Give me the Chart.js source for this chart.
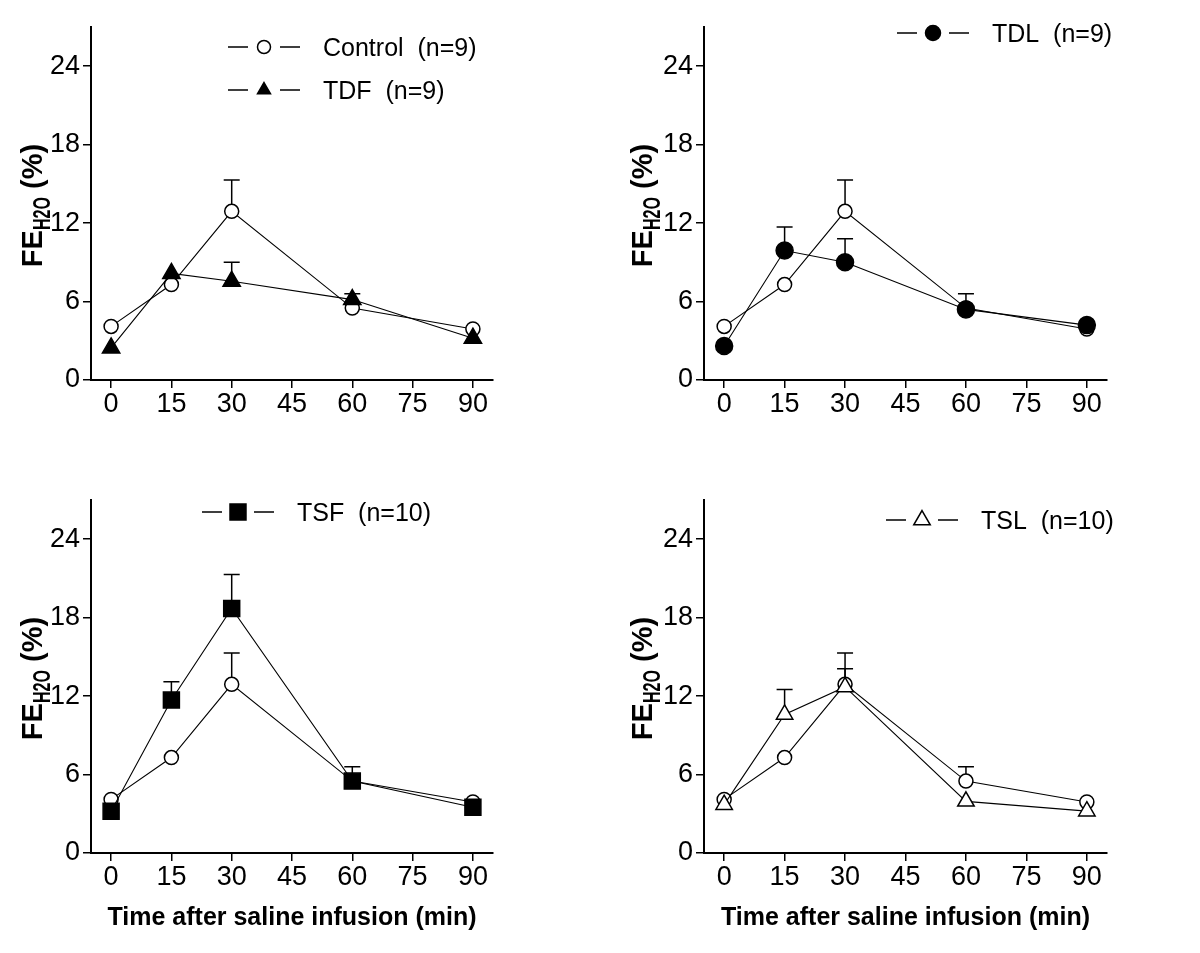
<!DOCTYPE html>
<html>
<head>
<meta charset="utf-8">
<script src="https://cdn.jsdelivr.net/npm/chart.js@4.4.1/dist/chart.umd.min.js"></script>
<style>
  html, body { margin: 0; padding: 0; background: #fff; }
  body { width: 1200px; height: 953px; position: relative; overflow: hidden; }
  .panel { position: absolute; }
  canvas { display: block; }
</style>
</head>
<body>
<div class="panel" style="left:0;top:0;"><canvas id="c1" width="600" height="470"></canvas></div>
<div class="panel" style="left:600px;top:0;"><canvas id="c2" width="600" height="470"></canvas></div>
<div class="panel" style="left:0;top:470px;"><canvas id="c3" width="600" height="483"></canvas></div>
<div class="panel" style="left:600px;top:470px;"><canvas id="c4" width="600" height="483"></canvas></div>
<script>
// ---------- data ----------
const timeMin = [0, 15, 30, 60, 90];
const xTickValues = [0, 15, 30, 45, 60, 75, 90];
const yTickValues = [0, 6, 12, 18, 24];

const controlMean = [4.1, 7.3, 12.9, 5.5, 3.9];
const controlSem  = [0, 0, 2.4, 1.1, 0];

const tdfMean = [2.45, 8.15, 7.55, 6.15, 3.2];
const tdfSem  = [0, 0, 1.45, 0, 0];

const tdlMean = [2.6, 9.9, 9.0, 5.4, 4.2];
const tdlSem  = [0, 1.8, 1.8, 0, 0];

const tsfMean = [3.2, 11.7, 18.7, 5.5, 3.5];
const tsfSem  = [0, 1.4, 2.6, 0, 0];

const tslMean = [3.7, 10.6, 12.7, 3.95, 3.2];
const tslSem  = [0, 1.9, 1.4, 0, 0];

const labelControl = 'Control  (n=9)';
const labelTDF = 'TDF  (n=9)';
const labelTDL = 'TDL  (n=9)';
const labelTSF = 'TSF  (n=10)';
const labelTSL = 'TSL  (n=10)';

const yTitleMain = 'FE';
const yTitleSub = 'H2O';
const yTitleTail = ' (%)';
const xTitleText = 'Time after saline infusion (min)';

// ---------- styles ----------
const FONT = '"Liberation Sans", Arial, Helvetica, sans-serif';
const styles = {
  control: { shape: 'circle',   r: 7,    fill: '#ffffff', lr: 6.5 },
  tdf:     { shape: 'triangle', r: 10,   fill: '#000000', lr: 7.5 },
  tdl:     { shape: 'circle',   r: 8.5,  fill: '#000000', lr: 7.5 },
  tsf:     { shape: 'rect',     r: 11.3, fill: '#000000', lr: 11.3 },
  tsl:     { shape: 'triangle', r: 9.5,  fill: '#ffffff', lr: 9.5 }
};

function makeSeries(label, mean, sem, st) {
  return {
    label: label,
    data: timeMin.map((t, i) => ({ x: t, y: mean[i] })),
    sem: sem,
    borderColor: '#000',
    borderWidth: 1.1,
    pointStyle: st.shape,
    pointRadius: st.r,
    pointHoverRadius: st.r,
    pointBackgroundColor: st.fill,
    pointBorderColor: '#000',
    pointBorderWidth: 1.5,
    fill: false,
    tension: 0
  };
}

function drawMarker(ctx, shape, x, y, r, fill) {
  ctx.beginPath();
  if (shape === 'circle') {
    ctx.arc(x, y, r, 0, Math.PI * 2);
  } else if (shape === 'rect') {
    const s = r * Math.SQRT1_2;
    ctx.rect(x - s, y - s, 2 * s, 2 * s);
  } else {
    const a = 2 * Math.PI / 3;
    ctx.moveTo(x, y - r);
    ctx.lineTo(x + r * Math.sin(a), y - r * Math.cos(a));
    ctx.lineTo(x + r * Math.sin(2 * a), y - r * Math.cos(2 * a));
    ctx.closePath();
  }
  ctx.fillStyle = fill;
  ctx.fill();
  ctx.lineWidth = 1.5;
  ctx.strokeStyle = '#000';
  ctx.stroke();
}

function makeDecor(cfg) {
  return {
    id: 'decor_' + cfg.id,
    beforeDatasetsDraw(chart) {
      const ctx = chart.ctx, xs = chart.scales.x, ys = chart.scales.y;
      ctx.save();
      ctx.strokeStyle = '#000';
      ctx.lineWidth = 1.5;
      chart.data.datasets.forEach(ds => {
        if (!ds.sem) return;
        ds.data.forEach((p, i) => {
          const s = ds.sem[i];
          if (!s) return;
          const px = xs.getPixelForValue(p.x);
          const py = ys.getPixelForValue(p.y);
          const pt = ys.getPixelForValue(p.y + s);
          ctx.beginPath();
          ctx.moveTo(px, py);
          ctx.lineTo(px, pt);
          ctx.moveTo(px - 8, pt);
          ctx.lineTo(px + 8, pt);
          ctx.stroke();
        });
      });
      ctx.restore();
    },
    afterDraw(chart) {
      const ctx = chart.ctx, area = chart.chartArea;
      ctx.save();
      // legend
      const L = cfg.legend;
      L.items.forEach((it, k) => {
        const y = L.y + k * L.rowGap;
        ctx.strokeStyle = '#000';
        ctx.lineWidth = 1.5;
        ctx.beginPath();
        ctx.moveTo(L.x, y); ctx.lineTo(L.x + 20, y);
        ctx.moveTo(L.x + 52, y); ctx.lineTo(L.x + 72, y);
        ctx.stroke();
        drawMarker(ctx, it.st.shape, L.x + 36, y, it.st.lr, it.st.fill);
        ctx.fillStyle = '#000';
        ctx.font = '25px ' + FONT;
        ctx.textAlign = 'left';
        ctx.textBaseline = 'alphabetic';
        ctx.fillText(it.label, L.x + 95, y + 9);
      });
      // y title (rotated, with subscript)
      ctx.fillStyle = '#000';
      ctx.textBaseline = 'alphabetic';
      ctx.textAlign = 'left';
      const fMain = 'bold 29px ' + FONT;
      const fSub = 'bold 23px ' + FONT;
      ctx.font = fMain;
      const wMain = ctx.measureText(yTitleMain).width;
      const wTail = ctx.measureText(yTitleTail).width;
      ctx.font = fSub;
      const subScale = 0.7;
      const wSub = ctx.measureText(yTitleSub).width * subScale;
      const total = wMain + wSub + wTail;
      const cy = (area.top + area.bottom) / 2 + 2;
      ctx.translate(cfg.yTitleX, cy);
      ctx.rotate(-Math.PI / 2);
      let sx = -total / 2;
      ctx.font = fMain;
      ctx.fillText(yTitleMain, sx, 0);
      sx += wMain;
      ctx.save();
      ctx.translate(sx, 8);
      ctx.scale(subScale, 1);
      ctx.font = fSub;
      ctx.fillText(yTitleSub, 0, 0);
      ctx.restore();
      sx += wSub;
      ctx.font = fMain;
      ctx.fillText(yTitleTail, sx, 0);
      ctx.setTransform(1, 0, 0, 1, 0, 0);
      // x title
      if (cfg.xTitleY) {
        ctx.font = 'bold 25px ' + FONT;
        ctx.textAlign = 'center';
        ctx.fillStyle = '#000';
        ctx.fillText(xTitleText, (area.left + area.right) / 2, cfg.xTitleY);
      }
      ctx.restore();
    }
  };
}

function makePanel(cfg) {
  const ctx = document.getElementById(cfg.id).getContext('2d');
  return new Chart(ctx, {
    type: 'line',
    data: { datasets: cfg.datasets },
    options: {
      responsive: false,
      animation: false,
      devicePixelRatio: 1,
      layout: { autoPadding: false, padding: { left: 0, top: cfg.top, right: cfg.right, bottom: 0 } },
      plugins: { legend: { display: false }, tooltip: { enabled: false }, title: { display: false } },
      scales: {
        x: {
          type: 'linear',
          min: -5, max: 95,
          afterFit: s => { s.height = cfg.xh; },
          afterBuildTicks: s => { s.ticks = xTickValues.map(v => ({ value: v })); },
          grid: { display: true, drawOnChartArea: false, drawTicks: true, tickLength: 8, color: '#000', lineWidth: 1.5 },
          border: { display: true, color: '#000', width: 2 },
          ticks: { color: '#000', font: { family: FONT, size: 27 }, padding: 0, maxRotation: 0, autoSkip: false }
        },
        y: {
          type: 'linear',
          min: 0, max: 27,
          afterFit: s => { s.width = cfg.yw; },
          afterBuildTicks: s => { s.ticks = yTickValues.map(v => ({ value: v })); },
          grid: { display: true, drawOnChartArea: false, drawTicks: true, tickLength: 8, color: '#000', lineWidth: 1.5 },
          border: { display: true, color: '#000', width: 2 },
          ticks: { color: '#000', font: { family: FONT, size: 27 }, padding: 3, autoSkip: false }
        }
      }
    },
    plugins: [makeDecor(cfg)]
  });
}

// Panel 1: Control vs TDF
makePanel({
  id: 'c1', top: 27, right: 107, yw: 91, xh: 90, yTitleX: 42, xTitleY: null,
  datasets: [
    makeSeries(labelTDF, tdfMean, tdfSem, styles.tdf),
    makeSeries(labelControl, controlMean, controlSem, styles.control)
  ],
  legend: { x: 228, y: 47, rowGap: 43, items: [
    { label: labelControl, st: styles.control },
    { label: labelTDF, st: styles.tdf }
  ] }
});

// Panel 2: Control vs TDL
makePanel({
  id: 'c2', top: 27, right: 93, yw: 104, xh: 90, yTitleX: 52, xTitleY: null,
  datasets: [
    makeSeries(labelTDL, tdlMean, tdlSem, styles.tdl),
    makeSeries(labelControl, controlMean, controlSem, styles.control)
  ],
  legend: { x: 297, y: 33, rowGap: 43, items: [
    { label: labelTDL, st: styles.tdl }
  ] }
});

// Panel 3: Control vs TSF
makePanel({
  id: 'c3', top: 30, right: 107, yw: 91, xh: 100, yTitleX: 42, xTitleY: 455,
  datasets: [
    makeSeries(labelTSF, tsfMean, tsfSem, styles.tsf),
    makeSeries(labelControl, controlMean, controlSem, styles.control)
  ],
  legend: { x: 202, y: 42, rowGap: 43, items: [
    { label: labelTSF, st: styles.tsf }
  ] }
});

// Panel 4: Control vs TSL
makePanel({
  id: 'c4', top: 30, right: 93, yw: 104, xh: 100, yTitleX: 52, xTitleY: 455,
  datasets: [
    makeSeries(labelTSL, tslMean, tslSem, styles.tsl),
    makeSeries(labelControl, controlMean, controlSem, styles.control)
  ],
  legend: { x: 286, y: 50, rowGap: 43, items: [
    { label: labelTSL, st: styles.tsl }
  ] }
});
</script>
</body>
</html>
